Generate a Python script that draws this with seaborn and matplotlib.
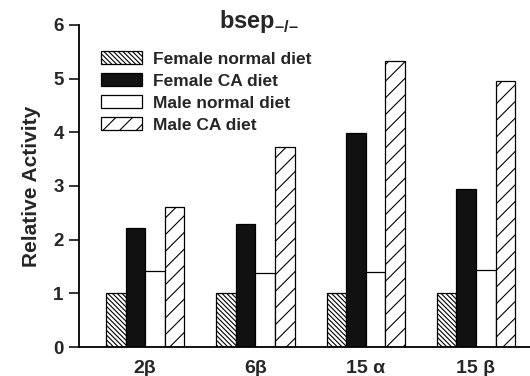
import matplotlib
matplotlib.use("Agg")
import matplotlib.pyplot as plt
import seaborn as sns
import pandas as pd

categories = ["2β", "6β", "15 α", "15 β"]
groups = ["Female normal diet", "Female CA diet", "Male normal diet", "Male CA diet"]
female_normal = [1.0, 1.0, 1.0, 1.0]
female_ca = [2.22, 2.30, 3.98, 2.94]
male_normal = [1.42, 1.37, 1.40, 1.43]
male_ca = [2.61, 3.73, 5.32, 4.95]

rows = []
for g, vals in zip(groups, [female_normal, female_ca, male_normal, male_ca]):
    for c, v in zip(categories, vals):
        rows.append({"cat": c, "group": g, "value": v})
df = pd.DataFrame(rows)

sns.set_theme(style="white")
plt.rcParams['font.family'] = ['Liberation Sans', 'DejaVu Sans']
plt.rcParams['hatch.linewidth'] = 0.8
plt.rcParams['mathtext.fontset'] = 'custom'
plt.rcParams['mathtext.bf'] = 'Liberation Sans:bold'
plt.rcParams['mathtext.rm'] = 'Liberation Sans'

fig = plt.figure(figsize=(5.3, 3.76), dpi=100)
ax = fig.add_axes([0.149, 0.077, 0.851, 0.857])

sns.barplot(data=df, x="cat", y="value", hue="group", hue_order=groups,
            order=categories, width=0.71, gap=0, legend=False, ax=ax,
            edgecolor="black", linewidth=0.9)

styles = [("white", "\\\\\\\\\\\\\\"), ("#111111", ""), ("white", ""), ("white", "//")]
for cont, (fc, h) in zip(ax.containers, styles):
    for p in cont.patches:
        p.set_facecolor(fc)
        p.set_hatch(h)
        p.set_edgecolor("black")

ax.set_ylim(0, 6)
ax.set_xlim(-0.6, 3.49)
ax.set_yticks([0, 1, 2, 3, 4, 5, 6])
ax.set_ylabel("Relative Activity", fontsize=15, fontweight="bold", labelpad=9)
ax.set_xlabel("")
for s in ["top", "right"]:
    ax.spines[s].set_visible(False)
for s in ["left", "bottom"]:
    ax.spines[s].set_linewidth(1.3)
    ax.spines[s].set_color("black")
ax.tick_params(axis="y", which="both", left=True, direction="out", length=7, width=1.3,
               labelsize=13.5, pad=4)
ax.tick_params(axis="x", bottom=False, labelsize=14, pad=3)
for t in ax.get_yticklabels() + ax.get_xticklabels():
    t.set_fontweight("bold")

ax.text(0.40, 0.99, r"bsep$_{\mathbf{–/–}}$", transform=ax.transAxes,
        fontsize=17, fontweight="bold", ha="center", va="baseline")

leg = ax.legend(ax.containers, groups, loc="upper left", bbox_to_anchor=(0.025, 0.95),
                frameon=False, prop={"weight": "bold", "size": 12.5},
                handlelength=2.4, handleheight=0.75, labelspacing=0.38, handletextpad=0.6,
                borderaxespad=0.2)

fig.savefig("out.png", dpi=100)
